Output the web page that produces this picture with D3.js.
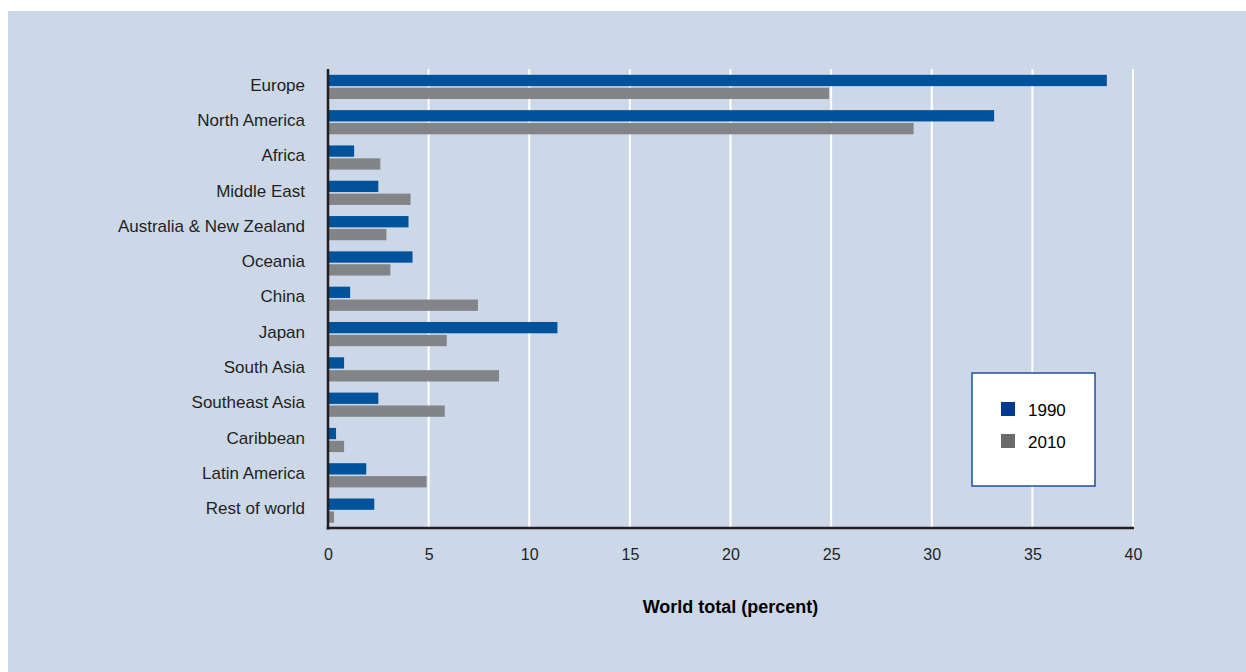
<!DOCTYPE html>
<html>
<head>
<meta charset="utf-8">
<script src="https://cdn.jsdelivr.net/npm/d3@7"></script>
<style>
  html, body { margin: 0; padding: 0; background: #ffffff; }
  svg { display: block; }
  text { font-family: "Liberation Sans Narrow", "Arial Narrow", "Liberation Sans", sans-serif; }
</style>
</head>
<body>
<svg id="chart" width="1246" height="672"></svg>
<script>
const categories = ["Europe", "North America", "Africa", "Middle East", "Australia & New Zealand",
  "Oceania", "China", "Japan", "South Asia", "Southeast Asia", "Caribbean", "Latin America", "Rest of world"];
const values1990 = [38.7, 33.1, 1.3, 2.5, 4.0, 4.2, 1.1, 11.4, 0.8, 2.5, 0.4, 1.9, 2.3];
const values2010 = [24.9, 29.1, 2.6, 4.1, 2.9, 3.1, 7.45, 5.9, 8.5, 5.8, 0.8, 4.9, 0.3];
const seriesNames = ["1990", "2010"];
const xTicks = [0, 5, 10, 15, 20, 25, 30, 35, 40];
const axisTitle = "World total (percent)";

(function () {
const svg = d3.select("#chart");
const W = 1246, H = 672;
const colors = { "1990": "#00529b", "2010": "#838488" };
const legendColors = { "1990": "#003a8c", "2010": "#6b6b6b" };

svg.append("rect").attr("x", 8).attr("y", 11).attr("width", W - 8).attr("height", H - 11).attr("fill", "#ccd8e8");

const mLeft = 328, mRight = 1133, mTop = 69, mBottom = 528;
const x = d3.scaleLinear().domain([0, 40]).range([mLeft, mRight]);
const y = d3.scaleBand().domain(categories).range([mTop, mBottom]).padding(0);
const bw = y.bandwidth();

// gridlines
svg.append("g").selectAll("line").data(xTicks.filter(d => d > 0)).join("line")
  .attr("x1", d => x(d)).attr("x2", d => x(d))
  .attr("y1", mTop).attr("y2", mBottom)
  .attr("stroke", "#ffffff").attr("stroke-width", 2);

// bars
const rows = categories.map((c, i) => ({ c, v1: values1990[i], v2: values2010[i] }));
const barH = bw * 0.32;
const g = svg.append("g");
g.selectAll("rect.b1").data(rows).join("rect").attr("class", "b1")
  .attr("x", x(0)).attr("y", d => y(d.c) + bw * 0.165)
  .attr("width", d => x(d.v1) - x(0)).attr("height", barH)
  .attr("fill", colors["1990"]);
g.selectAll("rect.b2").data(rows).join("rect").attr("class", "b2")
  .attr("x", x(0)).attr("y", d => y(d.c) + bw * 0.53)
  .attr("width", d => x(d.v2) - x(0)).attr("height", barH)
  .attr("fill", colors["2010"]);

// axes lines
svg.append("line").attr("x1", x(0)).attr("x2", x(0)).attr("y1", mTop).attr("y2", mBottom + 1.5)
  .attr("stroke", "#231f20").attr("stroke-width", 2.5);
svg.append("line").attr("x1", x(0) - 1.25).attr("x2", mRight + 1).attr("y1", mBottom).attr("y2", mBottom)
  .attr("stroke", "#231f20").attr("stroke-width", 2.5);

// x tick labels
const xAxis = d3.axisBottom(x).tickValues(xTicks).tickSize(0).tickPadding(0);
const xa = svg.append("g").attr("transform", `translate(0, ${mBottom + 21})`).call(xAxis);
xa.select(".domain").remove();
xa.selectAll("text").attr("font-size", 16).attr("fill", "#231f20")
  .attr("font-family", '"Liberation Sans Narrow", "Arial Narrow", sans-serif');

// y labels
const yAxis = d3.axisLeft(y).tickSize(0).tickPadding(0);
const ya = svg.append("g").attr("transform", `translate(${mLeft - 23}, -1.5)`).call(yAxis);
ya.select(".domain").remove();
ya.selectAll("text").attr("font-size", 17).attr("fill", "#231f20")
  .attr("font-family", '"Liberation Sans Narrow", "Arial Narrow", sans-serif');

// axis title
svg.append("text").attr("x", (mLeft + mRight) / 2).attr("y", 613).attr("text-anchor", "middle")
  .attr("font-size", 18).attr("font-weight", "bold").attr("fill", "#000")
  .text(axisTitle);

// legend
const lg = svg.append("g");
lg.append("rect").attr("x", 972).attr("y", 373).attr("width", 123).attr("height", 113)
  .attr("fill", "#ffffff").attr("stroke", "#1f4f9c").attr("stroke-width", 1.5);
seriesNames.forEach((s, i) => {
  lg.append("rect").attr("x", 1001).attr("y", 402 + i * 32).attr("width", 14).attr("height", 14)
    .attr("fill", legendColors[s]);
  lg.append("text").attr("x", 1028).attr("y", 416 + i * 32).attr("font-size", 17)
    .attr("fill", "#000").text(s);
});
})();
</script>
</body>
</html>
